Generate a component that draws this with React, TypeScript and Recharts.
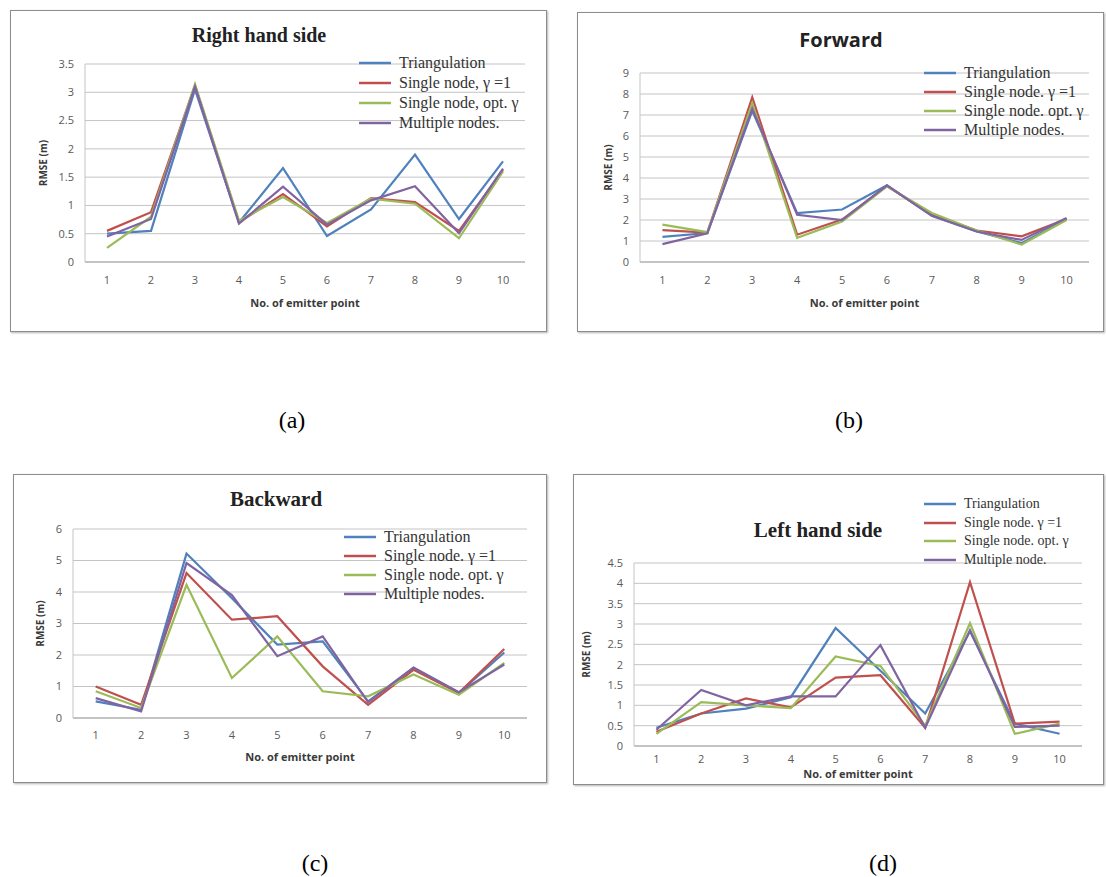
import React from "react";
import {
  LineChart,
  Line,
  XAxis,
  YAxis,
  CartesianGrid,
  Legend,
} from "recharts";

// emitter points (x axis)
const points = [1, 2, 3, 4, 5, 6, 7, 8, 9, 10];

// (a) Right hand side
const rhsTri = [0.5, 0.55, 3.05, 0.7, 1.66, 0.46, 0.93, 1.9, 0.76, 1.78];
const rhsSingle1 = [0.55, 0.88, 3.12, 0.7, 1.2, 0.63, 1.13, 1.06, 0.55, 1.63];
const rhsSingleOpt = [0.25, 0.8, 3.14, 0.73, 1.15, 0.69, 1.12, 1.03, 0.42, 1.6];
const rhsMulti = [0.45, 0.76, 3.1, 0.68, 1.33, 0.66, 1.09, 1.34, 0.51, 1.65];

// (b) Forward
const fwdTri = [1.2, 1.38, 7.2, 2.33, 2.5, 3.65, 2.2, 1.45, 0.9, 2.05];
const fwdSingle1 = [1.52, 1.4, 7.85, 1.3, 2.02, 3.62, 2.25, 1.5, 1.22, 2.05];
const fwdSingleOpt = [1.78, 1.42, 7.55, 1.15, 1.93, 3.6, 2.33, 1.5, 0.83, 2.0];
const fwdMulti = [0.85, 1.36, 7.3, 2.25, 2.0, 3.65, 2.2, 1.45, 1.05, 2.1];

// (c) Backward
const bwdTri = [0.53, 0.26, 5.22, 3.8, 2.33, 2.43, 0.53, 1.59, 0.8, 2.08];
const bwdSingle1 = [1.0, 0.42, 4.6, 3.12, 3.23, 1.64, 0.42, 1.53, 0.8, 2.19];
const bwdSingleOpt = [0.85, 0.32, 4.23, 1.27, 2.59, 0.85, 0.69, 1.38, 0.74, 1.75];
const bwdMulti = [0.63, 0.21, 4.92, 3.9, 1.96, 2.59, 0.5, 1.6, 0.82, 1.7];

// (d) Left hand side
const lhsTri = [0.45, 0.8, 0.92, 1.2, 2.9, 1.85, 0.8, 2.82, 0.55, 0.3];
const lhsSingle1 = [0.35, 0.8, 1.17, 0.95, 1.68, 1.74, 0.45, 4.03, 0.55, 0.6];
const lhsSingleOpt = [0.3, 1.08, 1.0, 0.93, 2.2, 1.97, 0.5, 3.02, 0.3, 0.55];
const lhsMulti = [0.4, 1.38, 1.0, 1.22, 1.22, 2.48, 0.45, 2.85, 0.47, 0.5];

const rhsTicks = [0, 0.5, 1, 1.5, 2, 2.5, 3, 3.5];
const fwdTicks = [0, 1, 2, 3, 4, 5, 6, 7, 8, 9];
const bwdTicks = [0, 1, 2, 3, 4, 5, 6];
const lhsTicks = [0, 0.5, 1, 1.5, 2, 2.5, 3, 3.5, 4, 4.5];

const namesComma = ["Triangulation", "Single node, γ =1", "Single node, opt. γ", "Multiple nodes."];
const namesDot = ["Triangulation", "Single node. γ =1", "Single node. opt. γ", "Multiple nodes."];
const namesDotD = ["Triangulation", "Single node. γ =1", "Single node. opt. γ", "Multiple node."];

const COLORS = ["#4f81bd", "#c0504d", "#9bbb59", "#8064a2"];
const KEYS = ["tri", "s1", "opt", "multi"];

const build = (a: number[], b: number[], c: number[], d: number[]) =>
  points.map((p, i) => ({ n: p, tri: a[i], s1: b[i], opt: c[i], multi: d[i] }));

const panels = [
  {
    id: "a",
    data: build(rhsTri, rhsSingle1, rhsSingleOpt, rhsMulti),
    names: namesComma,
    ticks: rhsTicks,
    max: 3.5,
    title: "Right hand side",
    titleFont: "'Liberation Serif', 'Times New Roman', serif",
    titleSize: 20,
    box: { x: 10, y: 10, w: 537, h: 322 },
    plot: { l: 75, r: 22, t: 54, b: 70 },
    titleX: 248,
    titleY: 24,
    yLabelX: 32,
    xLabelOff: 37,
    xTickMargin: 8,
    legend: { x: 348, y: 42, row: 20, size: 16 },
  },
  {
    id: "b",
    data: build(fwdTri, fwdSingle1, fwdSingleOpt, fwdMulti),
    names: namesDot,
    ticks: fwdTicks,
    max: 9,
    title: "Forward",
    titleFont: "'Open Sans', sans-serif",
    titleSize: 20,
    box: { x: 577, y: 12, w: 527, h: 320 },
    plot: { l: 63, r: 15, t: 61, b: 70 },
    titleX: 263,
    titleY: 27,
    yLabelX: 30,
    xLabelOff: 37,
    xTickMargin: 8,
    legend: { x: 346, y: 50, row: 19, size: 16 },
  },
  {
    id: "c",
    data: build(bwdTri, bwdSingle1, bwdSingleOpt, bwdMulti),
    names: namesDot,
    ticks: bwdTicks,
    max: 6,
    title: "Backward",
    titleFont: "'Liberation Serif', 'Times New Roman', serif",
    titleSize: 21,
    box: { x: 13, y: 474, w: 534, h: 309 },
    plot: { l: 60, r: 20, t: 55, b: 65 },
    titleX: 262,
    titleY: 25,
    yLabelX: 26,
    xLabelOff: 35,
    xTickMargin: 7,
    legend: { x: 330, y: 52, row: 19, size: 16 },
  },
  {
    id: "d",
    data: build(lhsTri, lhsSingle1, lhsSingleOpt, lhsMulti),
    names: namesDotD,
    ticks: lhsTicks,
    max: 4.5,
    title: "Left hand side",
    titleFont: "'Liberation Serif', 'Times New Roman', serif",
    titleSize: 21,
    box: { x: 573, y: 474, w: 531, h: 311 },
    plot: { l: 61, r: 22, t: 89, b: 39 },
    titleX: 244,
    titleY: 56,
    yLabelX: 12,
    xLabelOff: 24,
    xTickMargin: 3,
    legend: { x: 350, y: 20, row: 18.5, size: 14 },
  },
];

const captions = [
  { text: "(a)", x: 292, y: 420 },
  { text: "(b)", x: 849, y: 420 },
  { text: "(c)", x: 315, y: 863 },
  { text: "(d)", x: 883, y: 863 },
];

const tickStyle = { fill: "#595959", fontSize: 11, fontFamily: "'Open Sans', sans-serif" };

function LegendRows({ names, row, size }: { names: string[]; row: number; size: number }) {
  return (
    <div>
      {names.map((name, i) => (
        <div
          key={name}
          style={{ display: "flex", alignItems: "center", height: row, whiteSpace: "nowrap" }}
        >
          <svg width={32} height={4} style={{ display: "block" }}>
            <line x1={0} y1={2} x2={32} y2={2} stroke={COLORS[i]} strokeWidth={2.5} />
          </svg>
          <span
            style={{
              marginLeft: 8,
              fontSize: size,
              fontFamily: "'Liberation Serif', 'Times New Roman', serif",
              color: "#333",
            }}
          >
            {name}
          </span>
        </div>
      ))}
    </div>
  );
}

function Panel({ cfg }: { cfg: (typeof panels)[number] }) {
  const { box, plot, legend } = cfg;
  const plotW = box.w - plot.l - plot.r;
  const half = plotW / points.length / 2;
  return (
    <div
      style={{
        position: "absolute",
        left: box.x,
        top: box.y,
        width: box.w,
        height: box.h,
        boxSizing: "border-box",
        border: "1px solid #8c8c8c",
        boxShadow: "1px 1px 2px rgba(0,0,0,0.3)",
        background: "#fff",
      }}
    >
      <LineChart
        width={box.w - 2}
        height={box.h - 2}
        data={cfg.data}
        margin={{ top: plot.t - 1, right: plot.r - 1, left: 0, bottom: 0 }}
      >
        <CartesianGrid vertical={false} stroke="#c4c4c4" />
        <XAxis
          dataKey="n"
          height={plot.b - 1}
          padding={{ left: half, right: half }}
          tickLine={false}
          axisLine={{ stroke: "#a6a6a6" }}
          tick={tickStyle}
          tickMargin={cfg.xTickMargin}
          interval={0}
          label={{
            value: "No. of emitter point",
            position: "insideTop",
            offset: cfg.xLabelOff,
            style: { fill: "#3a3a3a", fontSize: 11, fontWeight: 700, fontFamily: "'Open Sans', sans-serif" },
          }}
        />
        <YAxis
          width={plot.l - 1}
          domain={[0, cfg.max]}
          ticks={cfg.ticks}
          tickLine={false}
          axisLine={{ stroke: "#c4c4c4" }}
          tick={tickStyle}
          tickMargin={5}
          interval={0}
          label={{
            value: "RMSE (m)",
            angle: -90,
            position: "insideLeft",
            offset: cfg.yLabelX,
            style: {
              textAnchor: "middle",
              fill: "#3a3a3a",
              fontSize: 10,
              fontWeight: 700,
              fontFamily: "'Open Sans', sans-serif",
            },
          }}
        />
        <Legend
          layout="vertical"
          align="center"
          verticalAlign="middle"
          wrapperStyle={{ left: legend.x, top: legend.y, width: "auto" }}
          content={() => <LegendRows names={cfg.names} row={legend.row} size={legend.size} />}
        />
        {KEYS.map((k, i) => (
          <Line
            key={k}
            type="linear"
            dataKey={k}
            name={cfg.names[i]}
            stroke={COLORS[i]}
            strokeWidth={2.2}
            dot={false}
            isAnimationActive={false}
          />
        ))}
      </LineChart>
      <div
        style={{
          position: "absolute",
          left: cfg.titleX - 100,
          width: 200,
          top: cfg.titleY - cfg.titleSize * 0.6,
          textAlign: "center",
          fontFamily: cfg.titleFont,
          fontSize: cfg.titleSize,
          fontWeight: 700,
          color: "#222",
          lineHeight: `${cfg.titleSize * 1.2}px`,
          pointerEvents: "none",
        }}
      >
        {cfg.title}
      </div>
    </div>
  );
}

export default function App() {
  return (
    <div
      style={{
        position: "absolute",
        left: 0,
        top: 0,
        width: 1106,
        height: 877,
        background: "#fff",
        overflow: "hidden",
      }}
    >
      {panels.map((p) => (
        <Panel key={p.id} cfg={p} />
      ))}
      {captions.map((c) => (
        <div
          key={c.text}
          style={{
            position: "absolute",
            left: c.x - 30,
            width: 60,
            top: c.y - 15,
            lineHeight: "30px",
            textAlign: "center",
            fontFamily: "'Liberation Serif', 'Times New Roman', serif",
            fontSize: 24,
            color: "#000",
          }}
        >
          {c.text}
        </div>
      ))}
    </div>
  );
}
